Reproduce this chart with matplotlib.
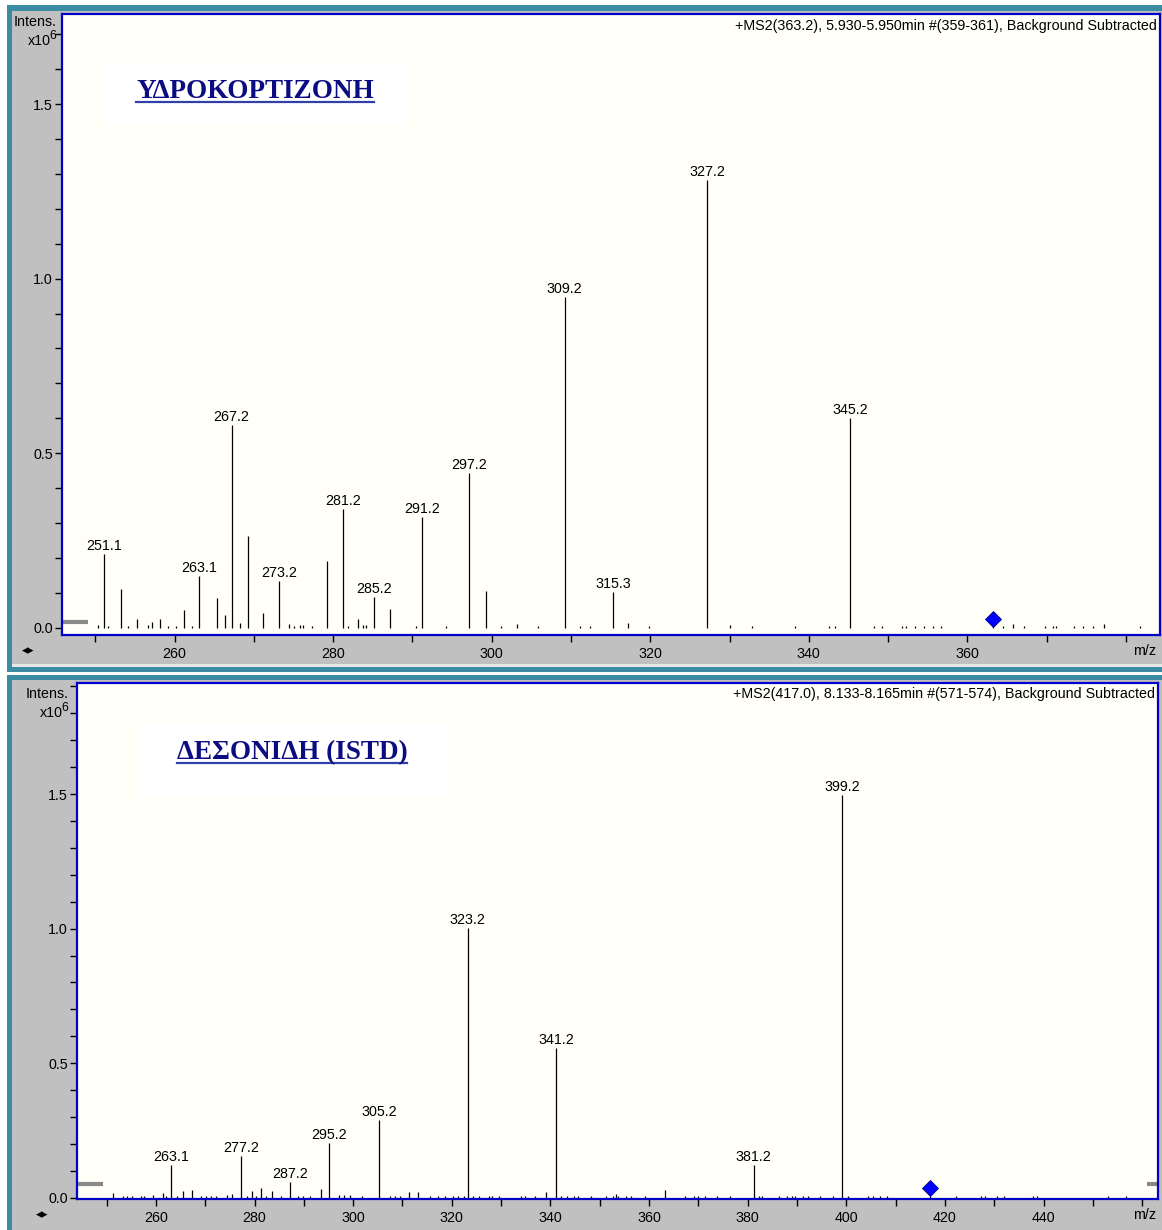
import matplotlib
matplotlib.use("Agg")
import matplotlib.pyplot as plt
from matplotlib import font_manager
from matplotlib.patches import Rectangle
from matplotlib.lines import Line2D
from matplotlib.ticker import MultipleLocator, FormatStrFormatter, FuncFormatter

# hydrocortisone MS2 spectrum (intensity in 1e6 counts)
top_mz = [250.3, 251.1, 251.6, 253.2, 254.1, 255.3, 256.7, 257.2, 258.2, 259.2,
          260.2, 261.2, 262.2, 263.1, 265.3, 266.3, 267.2, 268.2, 269.2, 271.2,
          273.2, 274.4, 275.1, 275.8, 276.2, 277.3, 279.2, 281.2, 281.9, 283.2,
          283.8, 284.2, 285.2, 287.2, 290.4, 291.2, 294.2, 297.2, 299.3, 301.2,
          303.2, 305.9, 309.2, 311.1, 312.4, 315.3, 317.2, 319.8, 327.2, 330.1,
          332.8, 338.2, 342.6, 343.3, 345.2, 348.2, 349.2, 351.7, 352.2, 353.4,
          354.5, 355.7, 356.7, 363.2, 364.5, 365.7, 367.1, 369.8, 370.8, 371.2,
          373.4, 374.6, 375.9, 377.2, 381.8]
top_int = [0.008, 0.211, 0.004, 0.110, 0.004, 0.024, 0.008, 0.016, 0.024, 0.005,
           0.005, 0.051, 0.005, 0.148, 0.086, 0.035, 0.580, 0.012, 0.263, 0.041,
           0.133, 0.010, 0.005, 0.007, 0.007, 0.006, 0.191, 0.339, 0.005, 0.024,
           0.008, 0.008, 0.089, 0.054, 0.005, 0.316, 0.005, 0.443, 0.105, 0.005,
           0.010, 0.005, 0.947, 0.005, 0.006, 0.101, 0.014, 0.005, 1.283, 0.008,
           0.005, 0.005, 0.005, 0.005, 0.601, 0.005, 0.005, 0.006, 0.006, 0.005,
           0.005, 0.005, 0.005, 0.010, 0.005, 0.010, 0.005, 0.005, 0.005, 0.005,
           0.005, 0.005, 0.005, 0.010, 0.005]
top_labels = [251.1, 263.1, 267.2, 273.2, 281.2, 285.2, 291.2, 297.2, 309.2,
              315.3, 327.2, 345.2]
top_precursor = 363.2
top_precursor_int = 0.024

# desonide (ISTD) MS2 spectrum
bot_mz = [251.2, 253.4, 254.2, 255.2, 256.9, 257.6, 259.4, 261.5, 262.1, 263.1,
          264.2, 265.5, 267.4, 269.2, 270.2, 271.2, 272.2, 274.5, 275.5, 277.2,
          278.4, 279.4, 280.2, 281.3, 282.4, 283.5, 285.3, 287.2, 288.9, 289.9,
          291.2, 293.4, 295.2, 297.2, 298.2, 299.4, 301.7, 305.2, 307.4, 308.4,
          309.4, 311.4, 313.2, 315.5, 317.2, 318.6, 320.3, 321.2, 322.4, 323.2,
          324.4, 325.6, 327.6, 328.1, 329.5, 334.1, 334.9, 336.8, 339.2, 341.2,
          342.2, 343.3, 344.8, 345.6, 348.3, 351.2, 352.6, 353.2, 353.7, 355.4,
          356.4, 359.2, 363.2, 367.2, 369.2, 369.9, 371.3, 373.7, 376.5, 381.2,
          382.2, 383.0, 386.4, 387.9, 388.9, 389.5, 391.2, 392.2, 394.6, 397.2,
          399.2, 400.3, 404.4, 405.4, 406.8, 408.3, 417.0, 422.3, 427.4, 428.1,
          430.5, 431.9, 437.9, 438.6, 453.1, 456.8]
bot_int = [0.019, 0.007, 0.005, 0.005, 0.005, 0.005, 0.009, 0.019, 0.008, 0.122,
           0.006, 0.026, 0.030, 0.008, 0.005, 0.005, 0.005, 0.010, 0.015, 0.155,
           0.008, 0.024, 0.008, 0.036, 0.005, 0.026, 0.005, 0.058, 0.005, 0.005,
           0.008, 0.033, 0.204, 0.009, 0.009, 0.009, 0.005, 0.289, 0.005, 0.005,
           0.007, 0.020, 0.022, 0.005, 0.005, 0.005, 0.005, 0.006, 0.005, 1.003,
           0.006, 0.005, 0.007, 0.007, 0.005, 0.005, 0.005, 0.005, 0.020, 0.556,
           0.005, 0.005, 0.005, 0.005, 0.005, 0.005, 0.005, 0.012, 0.005, 0.005,
           0.005, 0.005, 0.030, 0.005, 0.005, 0.005, 0.005, 0.007, 0.005, 0.122,
           0.005, 0.005, 0.005, 0.005, 0.005, 0.005, 0.006, 0.005, 0.005, 0.005,
           1.497, 0.005, 0.005, 0.005, 0.005, 0.006, 0.005, 0.005, 0.005, 0.005,
           0.005, 0.005, 0.005, 0.005, 0.005, 0.005]
bot_labels = [263.1, 277.2, 287.2, 295.2, 305.2, 323.2, 341.2, 381.2, 399.2]
bot_precursor = 417.0
bot_precursor_int = 0.035

W, H = 1162, 1230
TEAL = "#3b8ba2"
GRAY = "#c0c0c0"
PLOT_BG = "#fffff7"
SPINE = "#0000c8"
NAVY = "#0c0c82"

names = {f.name for f in font_manager.fontManager.ttflist}
if "Liberation Sans Narrow" in names:
    SANS, FS = "Liberation Sans Narrow", 12
else:
    SANS, FS = "Liberation Sans", 10.3
plt.rcParams["font.family"] = [SANS, "DejaVu Sans"]


def frac_rect(x0, y0, x1, y1):
    # pixel box (top-left origin) -> figure fraction [l, b, w, h]
    return [x0 / W, 1 - y1 / H, (x1 - x0) / W, (y1 - y0) / H]


def fig_text(x, y, s, **kw):
    return fig.text(x / W, 1 - y / H, s, **kw)


def add_rect(x0, y0, x1, y1, color, z=0):
    l, b, w, h = frac_rect(x0, y0, x1, y1)
    fig.add_artist(Rectangle((l, b), w, h, transform=fig.transFigure,
                             facecolor=color, edgecolor="none", zorder=z))


fig = plt.figure(figsize=(W / 100, H / 100), dpi=100, facecolor="white")

# window frames
add_rect(7, 5, W, 672, TEAL)
add_rect(12, 11, W, 665, GRAY)
add_rect(12, 664, W, 667, "#e6e6e6")
add_rect(7, 675, W, H, TEAL)
add_rect(12, 680, W, H, GRAY)


def draw_spectrum(box, mz, inten, labels, prec, prec_int, xlim, ylim, last_label,
                  header, title, title_box, title_xy, corner, arrows_x,
                  left_bar, right_bar):
    ax = fig.add_axes(frac_rect(*box))
    ax.set_facecolor(PLOT_BG)
    ax.set_xlim(*xlim)
    ax.set_ylim(*ylim)
    ax.vlines(mz, 0, inten, color="black", lw=0.9)
    for m in labels:
        v = inten[mz.index(m)]
        ax.annotate(f"{m:.1f}", xy=(m, v), xytext=(0, 4), textcoords="offset pixels",
                    ha="center", va="baseline", fontsize=FS)
    ax.plot([prec], [prec_int], marker="D", color="#0000ff", markersize=8,
            markeredgecolor="#00008b", markeredgewidth=0.6, zorder=5)

    ax.xaxis.set_major_locator(MultipleLocator(20))
    ax.xaxis.set_minor_locator(MultipleLocator(10))
    ax.xaxis.set_major_formatter(
        FuncFormatter(lambda v, p: "" if v > last_label else f"{v:.0f}"))
    ax.yaxis.set_major_locator(MultipleLocator(0.5))
    ax.yaxis.set_minor_locator(MultipleLocator(0.1))
    ax.yaxis.set_major_formatter(FormatStrFormatter("%.1f"))
    ax.tick_params(which="both", direction="out", length=5, width=1, color="black")
    ax.tick_params(axis="x", which="major", pad=3.5, labelsize=FS)
    ax.tick_params(axis="y", which="major", pad=1.5, labelsize=FS)
    for sp in ax.spines.values():
        sp.set_color(SPINE)
        sp.set_linewidth(1.6)

    # grey baseline handles
    ax.plot([0, left_bar[0]], [left_bar[1]] * 2, transform=ax.transAxes,
            color="#8a8a8a", lw=3, solid_capstyle="butt", clip_on=False)
    if right_bar:
        ax.plot([right_bar[0], 1], [right_bar[1]] * 2, transform=ax.transAxes,
                color="#8a8a8a", lw=3, solid_capstyle="butt", clip_on=False)

    ax.text(0.997, 0.992, header, transform=ax.transAxes, ha="right", va="top",
            fontsize=FS)

    add_rect(*title_box, "white", z=1)
    t = fig_text(title_xy[0], title_xy[1], title, ha="center", va="center",
                 family="Liberation Serif", weight="bold", fontsize=19.5,
                 color=NAVY, zorder=2)
    bb = t.get_window_extent(fig.canvas.get_renderer())
    fig.add_artist(Line2D([bb.x0 / W, bb.x1 / W], [(bb.y0 + 3) / H] * 2,
                          transform=fig.transFigure, color="#3040a8", lw=1.6,
                          zorder=2))

    cx, cy = corner
    fig_text(cx, cy, "Intens.", ha="right", va="baseline", fontsize=FS)
    fig_text(cx - 6, cy + 19, "x10", ha="right", va="baseline", fontsize=FS)
    fig_text(cx - 8, cy + 13, "6", ha="left", va="baseline", fontsize=FS - 1.5)
    xb = box[3] + 16
    fig_text(arrows_x, xb, "◂▸", ha="center", va="center",
             family="DejaVu Sans", fontsize=9)
    fig_text(1145, xb, "m/z", ha="center", va="center", fontsize=FS)
    return ax


draw_spectrum((62, 14, 1160, 635), top_mz, top_int, top_labels,
              top_precursor, top_precursor_int, (245.8, 384.3), (-0.021, 1.758), 370,
              "+MS2(363.2), 5.930-5.950min #(359-361), Background Subtracted",
              "ΥΔΡΟΚΟΡΤΙΖΟΝΗ", (103, 63, 408, 125), (255, 92), (57, 26), 28,
              (0.024, 0.021), None)

draw_spectrum((77, 683, 1158, 1199), bot_mz, bot_int, bot_labels,
              bot_precursor, bot_precursor_int, (244.0, 463.2), (-0.005, 1.913), 450,
              "+MS2(417.0), 8.133-8.165min #(571-574), Background Subtracted",
              "ΔΕΣΟΝΙΔΗ (ISTD)", (140, 723, 447, 798), (292, 753), (69, 698), 42,
              (0.024, 0.029), (0.99, 0.029))

fig.savefig("out.png", dpi=100, facecolor="white")
